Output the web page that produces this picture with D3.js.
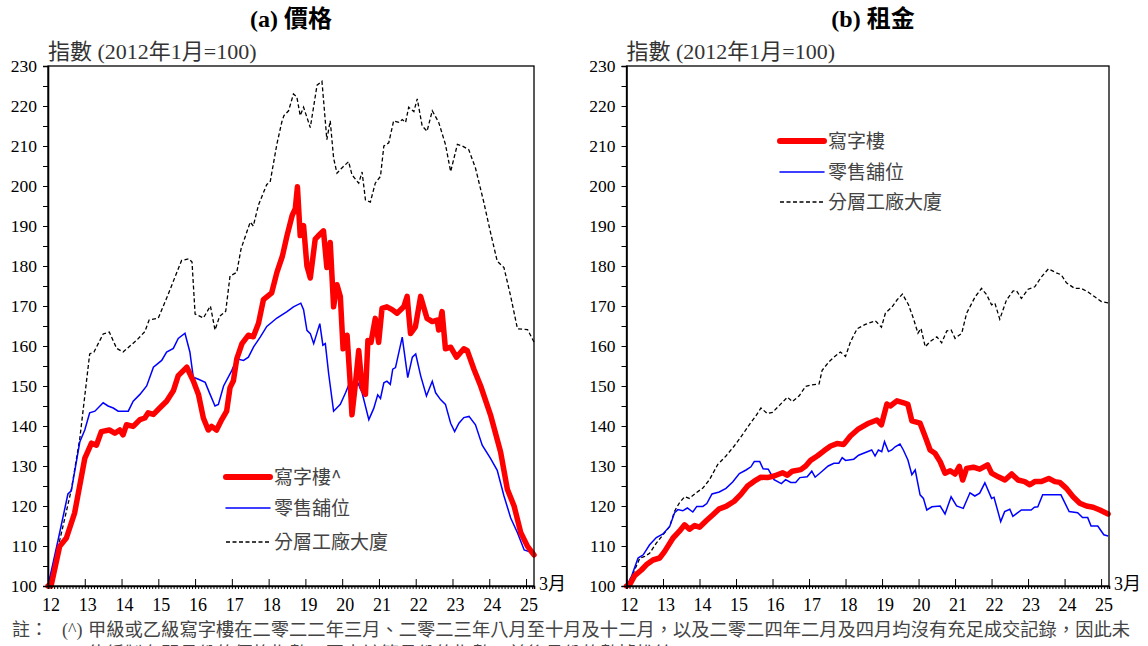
<!DOCTYPE html>
<html>
<head>
<meta charset="utf-8">
<title>價格及租金指數</title>
<script src="https://cdn.jsdelivr.net/npm/d3@7"></script>
<style>
body { margin: 0; background: #fff; }
svg { font-family: "Liberation Serif", "Noto Sans CJK TC", serif; }
.legend text, .note { font-family: "Noto Sans CJK TC", sans-serif; fill: #444; }
</style>
</head>
<body>
<svg id="chart" width="1148" height="646"></svg>
<script>
// month index (0 = Jan 2012) and index value (Jan 2012 = 100)
var priceOffice = [[0,100],[1,100],[3.8,109.9],[6,112],[8.7,118.3],[12,131.9],[14.2,135.7],[15.8,135.2],[17.4,138.6],[20,139],[21.8,138.2],[23.4,139],[24.5,137.8],[25.6,140.3],[27.8,139.9],[30,141.6],[31.6,142],[32.7,143.3],[34.4,142.9],[37.1,145],[38.7,146.2],[40.9,148.8],[42.5,152.6],[45.3,154.7],[47.4,151.3],[49.1,147.9],[50.7,142],[52.3,139],[53.4,139.9],[55,139],[56.7,141.6],[58.3,143.7],[59.4,149.6],[60.5,151.3],[61.6,156.8],[63.3,160.6],[65.4,162.7],[67,162.3],[68.7,165.7],[70.3,171.6],[73,173.3],[74.7,178.4],[76.5,182.5],[78,187.6],[79.7,192.7],[80.7,194.3],[81.4,199.8],[82.3,187.6],[83.4,190.1],[84.5,180],[85.6,177],[87.2,186.7],[88.8,188],[89.9,188.8],[91,179.6],[92.1,185.9],[93.2,169.8],[94.3,175.3],[95.4,172.4],[96.3,159.3],[97.6,162.7],[98.5,152.1],[99.2,142.8],[100.3,150.4],[101.4,158.9],[102.5,149.6],[103.6,147.9],[104.4,161.4],[105.4,160.9],[106.8,166.9],[107.9,160.9],[109,169.4],[110.6,169.8],[112.3,169.1],[113.9,168.2],[116.1,169.8],[117.2,172.4],[118.3,163.1],[119.9,164.8],[121.6,172.4],[123.7,166.9],[125.4,166.1],[127,166.5],[127.5,164],[128.6,168.6],[129.7,159.3],[131.4,159.7],[133.3,157.2],[135.7,159.3],[136.8,158.9],[139,154.2],[141.2,150],[144.4,142.8],[147.7,133.5],[149.9,124.2],[152.1,120],[154.3,113.3],[156.5,109.9],[158.6,107.8]];

var priceRetail = [[0,100],[3.3,111.5],[6.5,123],[7.6,123.8],[10.4,136.1],[12,139],[13.6,143.3],[15.3,143.7],[18,145.8],[19.6,145],[21.3,144.5],[22.9,143.7],[26.2,143.7],[27.8,146.2],[30,147.9],[32.2,150],[34.4,154.7],[37.1,156.4],[38.7,158.5],[40.9,159.4],[42.5,161.9],[44.7,163.2],[46.3,158.5],[47.4,152.2],[49.1,151.7],[51.3,150.9],[52.9,147.9],[54.5,145],[55.6,145.4],[57.3,150],[60,153.9],[61.6,156.8],[63.8,156.4],[65.4,157.2],[67.1,159.8],[69.3,162.3],[71.4,164.9],[74.7,167],[78,168.6],[80.1,169.8],[82.5,170.7],[83.4,169.1],[84.5,163.9],[85.6,163.1],[86.7,160.6],[88.7,165.6],[89.7,160.2],[90.5,160.6],[91.6,153],[93.2,143.7],[95.4,145.4],[97.1,148.3],[98.7,151.3],[99.8,150.4],[100.9,151.2],[102.5,148.3],[104.7,141.6],[106.3,144.4],[107.6,147.8],[108.5,146.9],[109.6,150.8],[110.6,151.2],[111.7,150.4],[112.5,154.2],[113.4,154.6],[115.6,162.2],[117.4,152.1],[118.9,157.2],[120,158],[121.6,152.6],[123.5,147.5],[125.4,151.2],[126.5,148.3],[128.1,146.6],[129.7,145.4],[131.4,140.7],[132.7,138.6],[134.1,140.7],[135.7,142.1],[137.4,142.4],[139.5,140.3],[141.7,135.2],[144.4,131.9],[146.6,128.9],[148.8,122.5],[151,117],[153.2,113.3],[155.4,109],[157,108.6],[158.6,107.4]];

var priceFactory = [[0,100],[4,112],[7.6,124],[10.4,137],[13.6,158],[15,158.5],[18,163],[20,163.5],[22.4,159.4],[24.5,158.5],[29,161.5],[31.6,163.6],[33,166.5],[36,167],[39,172.5],[43.6,181.4],[46,181.8],[47,181],[48,168],[50.7,167],[53,170],[54.5,164],[56,167.4],[58,168.7],[59.4,177.5],[61.6,178.4],[63,184.3],[66,191],[67,190],[68.7,195.3],[71.4,200.4],[72.5,201],[74.7,210.5],[76.3,216],[77,217.6],[78.5,218.8],[80.1,223],[81.2,222.3],[82.3,217.6],[83.4,219.7],[85.6,214.6],[87.8,225.2],[89.4,226.2],[91,211.6],[92.1,216.3],[93.2,207],[94.3,203.2],[95.9,204.5],[98.1,206.1],[99.2,202.8],[101.4,200.7],[102.5,203.5],[103.6,196.5],[105.2,196],[106.8,200.7],[108.5,202.4],[109.6,210],[111.2,210.8],[112.8,216.3],[114.5,215.9],[115.6,216.6],[116.7,215.9],[117.7,219.7],[119.4,218.6],[120.5,221.8],[122.1,215],[123.7,213.7],[125.4,218.8],[127.5,215.9],[129.7,210.4],[131.4,203.6],[133.6,210.4],[135.2,210],[137.3,209.1],[139.5,204.5],[142.2,196],[144.4,188.4],[146.6,181.2],[148.8,179.6],[151,172.4],[153.2,164.3],[156.5,164.1],[158.6,161]];

var rentOffice = [[0,100],[1,100.3],[2.7,102.6],[4.9,104],[6.5,105.3],[8.7,106.5],[10.9,107],[12.5,108.6],[15.3,112],[17.4,113.7],[19.1,115.3],[20.7,114.2],[22.4,115.1],[24,114.7],[26.2,116.3],[28.4,117.8],[30.5,119.3],[32.7,119.9],[35.4,121.2],[37.6,122.9],[39.8,125],[42,126.2],[44.2,127.2],[46.3,127.1],[48.5,127.5],[51.3,128.3],[52.9,127.7],[54.5,128.7],[57.3,129.1],[58.9,130],[60.5,131.4],[62.7,132.5],[64.9,133.8],[67.1,135],[69.2,135.6],[71.4,135.4],[73.6,137.5],[76.3,139.3],[79.6,140.7],[82.3,141.5],[83.8,140.3],[85.6,145.5],[86.7,145],[88.9,146.3],[91.1,145.8],[92.5,145.4],[93.8,141.3],[96.5,140.7],[98.2,137.3],[99.8,134],[101.4,133.2],[103.1,131.1],[104.7,128.2],[106.4,128.8],[108,128],[109.4,129.9],[110.5,126.5],[111.8,129.4],[114,129.7],[116.1,129.2],[118.7,130.3],[120,128.2],[122.2,127.3],[124.4,126.5],[126.6,128],[128.7,126.5],[130.9,126.1],[132.6,125.3],[134.2,126.1],[136.4,126.1],[138.8,126.9],[140.8,126.1],[142.4,125.9],[144.6,124.4],[146.8,122.3],[149,120.7],[151.2,120],[153.4,119.7],[155.6,119],[158.3,118]];

var rentRetail = [[0,100],[1.6,102.3],[3.8,107],[5.5,107.8],[7.6,110.3],[9.8,112.1],[12,113],[14.2,114.9],[15.8,118.3],[16.9,119.1],[18.5,118.8],[20,119.5],[21.8,118.5],[23.1,119.9],[25.1,119.9],[26.4,120.6],[28.1,123],[30.5,123.5],[32.7,124.4],[34.9,126],[37.1,128.1],[39.3,129],[40.9,129.8],[42,131.1],[43.8,131.1],[44.9,129.3],[46.6,129.2],[48.5,126.6],[50.9,125.6],[52.3,126.6],[54,125.9],[55.6,125.9],[57,127.1],[59.4,127.3],[60.9,128.7],[62,127.2],[64.3,128.7],[66.3,130],[68.2,130.7],[69.8,130.7],[70.9,132.1],[72,131.4],[74.7,131.7],[76.3,132.7],[80.6,134],[81.7,132.5],[82.8,134],[83.9,133.6],[84.8,136.1],[86.1,133.6],[87.2,134],[88.3,134.8],[89.9,135.5],[91,134],[92.5,131.5],[93.8,127.8],[94.9,129],[96.5,122.8],[97.6,121.9],[98.7,119],[100.4,119.8],[103.1,120],[104.7,118],[106.7,122.3],[108.5,120],[110.7,119.4],[112.9,123.3],[114.5,122.5],[116.1,123.2],[117.8,125.8],[120,121.9],[120.8,122.2],[123,116.1],[124.3,118.6],[126,119.2],[127,117.4],[129.8,119],[133,119],[134.1,119.7],[135.2,119.8],[136.8,122.8],[142.8,122.8],[145.5,118.6],[148.3,118.3],[149.9,117.1],[151.6,117.1],[152.7,115],[154.9,115],[156.9,112.8],[158.3,112.5]];

var rentFactory = [[0,100],[2.2,103.2],[4.4,107],[6,107.4],[7.6,108.2],[9.8,110.7],[12,112.8],[14.2,114.9],[15.8,118.7],[17.4,120.8],[19.1,122.3],[20.7,121.9],[22.9,123.3],[25.1,124.5],[27.3,126.6],[30,130.4],[32.7,132.5],[35.4,135],[38.2,137.9],[40.9,140.9],[42.5,142.5],[44.2,144.5],[46.3,143.1],[48,143.4],[50.2,145.1],[52.9,147.2],[54.5,146.1],[56.7,147.5],[58.9,149.9],[61,150.3],[63.3,150.5],[64.3,153.9],[66.5,156],[68.2,157.2],[70.3,158.5],[72,157.4],[73.6,161],[75.8,164.3],[78.5,165.4],[81.8,166.3],[83.8,164.7],[85.1,168.2],[87.3,169.8],[88.9,171.5],[90.7,173],[92.7,170.3],[94.3,166.9],[95.8,163.2],[96.8,164.4],[98.2,159.8],[99.8,161.1],[102,162.3],[103.6,160.8],[105.3,163.8],[106.7,164],[108,161.9],[110.2,163.2],[111.8,168.2],[114.6,172.3],[116.7,174.4],[118.4,172.8],[120,170.3],[121.1,170.7],[122.7,166.7],[124.9,171.5],[127.1,173.8],[128.2,173.8],[129.8,171.9],[132,174.2],[134.2,174.8],[136.4,177.3],[138.7,179.3],[141.3,178.3],[142.9,177.8],[144.6,175.8],[147.3,174.4],[149.5,174.4],[151.7,173.5],[153.9,172.3],[156.1,171.1],[158.3,170.8]];

var yearLabels = ["12","13","14","15","16","17","18","19","20","21","22","23","24","25"];
var yTickValues = d3.range(100, 231, 5);
var noteLine1 = "甲級或乙級寫字樓在二零二二年三月、二零二三年八月至十月及十二月，以及二零二四年二月及四月均沒有充足成交記錄，因此未";
var noteLine2 = "能編製有關月份的價格指數，圖中該等月份的指數以前後月份的數據推算。";

var svg = d3.select("#chart");

function drawPanel(p) {
  var x = d3.scaleLinear().domain([0, 158.6]).range([p.left, p.right]);
  var y = d3.scaleLinear().domain([100, 230]).range([586, 66]);
  var g = svg.append("g");

  // title and unit
  g.append("text")
    .attr("x", p.titleX).attr("y", 27)
    .attr("text-anchor", "middle")
    .style("font-size", "24px").style("font-weight", "bold")
    .text(p.title);
  g.append("text")
    .attr("x", p.left).attr("y", 59)
    .style("font-size", "22px").style("fill", "#333")
    .text("指數 (2012年1月=100)");

  // lines
  var line = d3.line().x(function(d) { return x(d[0]); }).y(function(d) { return y(d[1]); });
  g.append("path").datum(p.factory)
    .attr("fill", "none").attr("stroke", "#000").attr("stroke-width", 1.3)
    .attr("stroke-dasharray", "4,2.5").attr("d", line);
  g.append("path").datum(p.retail)
    .attr("fill", "none").attr("stroke", "#0000ff").attr("stroke-width", 1.5)
    .attr("d", line);
  g.append("path").datum(p.office)
    .attr("fill", "none").attr("stroke", "#ff0000").attr("stroke-width", 5.5)
    .attr("stroke-linejoin", "round").attr("stroke-linecap", "round")
    .attr("d", line);

  // frame
  g.append("rect")
    .attr("x", p.left).attr("y", 66)
    .attr("width", p.right - p.left).attr("height", 520)
    .attr("fill", "none").attr("stroke", "#000").attr("stroke-width", 1.3);

  // y axis
  var ya = g.append("g").attr("transform", "translate(" + p.left + ",0)")
    .call(d3.axisLeft(y).tickValues(yTickValues).tickSize(5).tickPadding(6)
      .tickFormat(function(d) { return d % 10 === 0 ? d : ""; }));
  ya.select(".domain").attr("stroke-width", 1.6);
  ya.selectAll("text").style("font-family", "Liberation Serif").style("font-size", "17.5px").attr("fill", "#000");

  // x axis: monthly minor ticks, yearly major ticks
  var xa = g.append("g").attr("transform", "translate(0,586)")
    .call(d3.axisBottom(x).tickValues(d3.range(0, 159)).tickSize(3).tickFormat(""));
  xa.select(".domain").attr("stroke-width", 1.6);
  var xm = g.append("g").attr("transform", "translate(0,586)")
    .call(d3.axisTop(x).tickValues(d3.range(0, 157, 12)).tickSize(7).tickFormat(""));
  xm.select(".domain").remove();
  var xl = g.append("g").attr("transform", "translate(0,586)")
    .call(d3.axisBottom(x).tickValues(d3.range(0, 157, 12)).tickSize(0).tickPadding(12)
      .tickFormat(function(d, i) { return yearLabels[i]; }));
  xl.select(".domain").remove();
  xl.selectAll("text").attr("dx", 2.5).style("font-family", "Liberation Serif").style("font-size", "18px").attr("fill", "#000");

  g.append("text")
    .attr("x", p.right + 5).attr("y", 590)
    .style("font-size", "18px")
    .text("3月");

  // legend
  var lg = g.append("g").attr("class", "legend");
  var items = [
    { name: p.officeName, color: "#ff0000", width: 6, dash: null },
    { name: "零售舖位", color: "#0000ff", width: 1.5, dash: null },
    { name: "分層工廠大廈", color: "#000", width: 1.3, dash: "4,2.5" }
  ];
  items.forEach(function(it, i) {
    var ly = p.legY[i];
    lg.append("line")
      .attr("x1", p.legX).attr("x2", p.legX + 44)
      .attr("y1", ly).attr("y2", ly)
      .attr("stroke", it.color).attr("stroke-width", it.width)
      .attr("stroke-linecap", it.dash ? "butt" : "round")
      .attr("stroke-dasharray", it.dash);
    lg.append("text")
      .attr("x", p.legX + 48).attr("y", ly + 7)
      .style("font-size", "19px")
      .text(it.name);
  });
}

drawPanel({
  left: 48, right: 534, titleX: 291, title: "(a) 價格",
  office: priceOffice, retail: priceRetail, factory: priceFactory,
  officeName: "寫字樓^", legX: 226, legY: [477, 508, 542]
});
drawPanel({
  left: 626.5, right: 1109, titleX: 873, title: "(b) 租金",
  office: rentOffice, retail: rentRetail, factory: rentFactory,
  officeName: "寫字樓", legX: 780, legY: [141, 172, 202]
});

// note
var note = svg.append("g").attr("class", "note");
note.append("text").attr("x", 12).attr("y", 636).style("font-size", "18px").attr("fill", "#444").text("註");
note.append("text").attr("x", 30).attr("y", 636).style("font-size", "18px").attr("fill", "#444").text("：");
note.append("text").attr("x", 62).attr("y", 636).style("font-size", "18px").attr("fill", "#444")
  .style("font-family", "Liberation Serif").text("(^)");
note.append("text").attr("x", 88).attr("y", 636).style("font-size", "18.3px").attr("fill", "#444")
  .attr("class", "note").text(noteLine1);
note.append("text").attr("x", 88).attr("y", 660).style("font-size", "18.3px").attr("fill", "#444")
  .attr("class", "note").text(noteLine2);
</script>
</body>
</html>
